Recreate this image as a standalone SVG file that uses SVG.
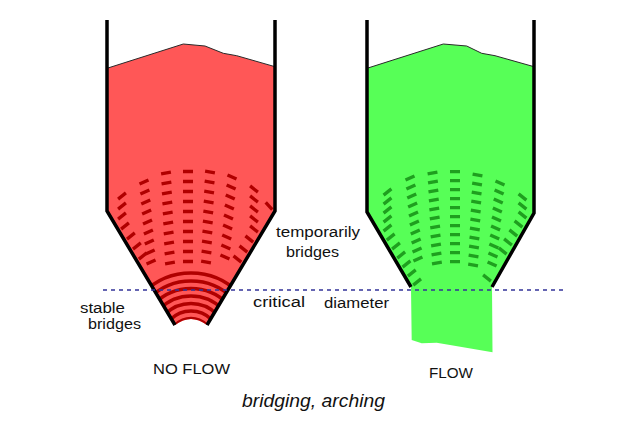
<svg xmlns="http://www.w3.org/2000/svg" width="633" height="422" viewBox="0 0 633 422">
<style>
.wall{fill:none;stroke:#000;stroke-width:3.5;stroke-linejoin:miter}
.surf{fill:none;stroke:#2a2a2a;stroke-width:1}
.rfill{fill:#ff5757}
.gfill{fill:#57ff57}
.rdash{fill:none;stroke:#b00000;stroke-width:3.3}
.gdash{fill:none;stroke:#1f9f1f;stroke-width:3.3}
.rarc{fill:none;stroke:#b00000;stroke-width:3.5}
.crit{fill:none;stroke:#333399;stroke-width:1.5;stroke-dasharray:4 4}
.lbl{font-family:"Liberation Sans",Arial,sans-serif;font-size:14px;fill:#111}
.cap{font-family:"Liberation Sans",Arial,sans-serif;font-size:19px;font-style:italic;fill:#111}
</style>
<defs>
<clipPath id="clipRed"><path d="M107 20 L275 20 L275 211 L207 325 Q191 313 175 325 L107 211 Z"/></clipPath>
<clipPath id="clipGreen"><path d="M367 20 L534 20 L534 213 L492 287 L411 287 L367 212 Z"/></clipPath>
</defs>

<g id="silo-noflow">
<path class="rfill" d="M107 68.3 L183.3 44 L205 46 L223.3 53.3 L236.7 55.7 L275 66.7 L275 211 L207 325 Q191 313 175 325 L107 211 Z"/>
<path class="surf" d="M107 68.3 L183.3 44 L205 46 L223.3 53.3 L236.7 55.7 L275 66.7"/>
<g clip-path="url(#clipRed)">
<path class="rdash" d="M183 171.5 h10 m-10 10 h10 m-10 10 h10 m-10 10 h10 m-10 10 h10 m-10 10 h10 m-10 10 h10 m-10 10 h10 m-10 10 h10 m-10 10 h10
M205.1 171.1 l9.8 1.8 m-10.24 8.2 l9.8 1.8 m-10.24 8.2 l9.8 1.8 m-10.24 8.2 l9.8 1.8 m-10.24 8.2 l9.8 1.8 m-10.24 8.2 l9.8 1.8 m-10.24 8.2 l9.8 1.8 m-10.24 8.2 l9.8 1.8 m-10.24 8.2 l9.8 1.8 m-10.24 8.2 l9.8 1.8
M161.1 173.9 l9.8 -1.8 m-9.36 11.8 l9.8 -1.8 m-9.36 11.8 l9.8 -1.8 m-9.36 11.8 l9.8 -1.8 m-9.36 11.8 l9.8 -1.8 m-9.36 11.8 l9.8 -1.8 m-9.36 11.8 l9.8 -1.8 m-9.36 11.8 l9.8 -1.8 m-9.36 11.8 l9.8 -1.8 m-9.36 11.8 l9.8 -1.8
M227.5 174.9 l9 4.2 m-9.88 5.8 l9 4.2 m-9.88 5.8 l9 4.2 m-9.88 5.8 l9 4.2 m-9.88 5.8 l9 4.2 m-9.88 5.8 l9 4.2 m-9.88 5.8 l9 4.2 m-9.88 5.8 l9 4.2 m-9.88 5.8 l9 4.2
M139.5 184.1 l9 -4.2 m-8.12 14.2 l9 -4.2 m-8.12 14.2 l9 -4.2 m-8.12 14.2 l9 -4.2 m-8.12 14.2 l9 -4.2 m-8.12 14.2 l9 -4.2 m-8.12 14.2 l9 -4.2 m-8.12 14.2 l9 -4.2 m-8.12 14.2 l9 -4.2
M118.1 199.1 l7.8 -6.2 M118.1 209.1 l7.8 -6.2 M118.1 219.1 l7.8 -6.2 M121.1 229.1 l7.8 -6.2 M127 239.1 l7.8 -6.2 M133 249.1 l7.8 -6.2 M138.9 259.1 l7.8 -6.2
M250.1 185.9 l7.8 6.2 M250.1 195.9 l7.8 6.2 M250.1 205.9 l7.8 6.2 M250.1 215.9 l7.8 6.2 M250.1 225.9 l7.8 6.2 M245.4 235.9 l7.8 6.2 M239.5 245.9 l7.8 6.2 M233.5 255.9 l7.8 6.2
M265.7 202.3 l6.6 7.4"/>
<path class="rarc" d="M124 340 A67 67 0 0 1 258 340 M132 340 A59 59 0 0 1 250 340 M139.5 340 A51.5 51.5 0 0 1 242.5 340 M147 340 A44 44 0 0 1 235 340 M154.5 340 A36.5 36.5 0 0 1 227.5 340 M162 340 A29 29 0 0 1 220 340 M169.5 340 A21.5 21.5 0 0 1 212.5 340"/>
</g>
<path class="wall" d="M107 20 L107 211 L175 325"/>
<path class="wall" d="M275 20 L275 211 L207 325"/>
</g>

<g id="silo-flow">
<path class="gfill" d="M367 68.3 L443.3 44 L466.7 46 L481.7 53.3 L495 55.7 L534 66.7 L534 213 L492 287 L492.5 352.3 L450 345 L436.7 342.7 L421.7 343.3 L411.7 340 L411 287 L367 212 Z"/>
<path class="surf" d="M367 68.3 L443.3 44 L466.7 46 L481.7 53.3 L495 55.7 L534 66.7"/>
<g clip-path="url(#clipGreen)">
<path class="gdash" d="M450 171.7 h10 m-10 9 h10 m-10 9 h10 m-10 9 h10 m-10 9 h10 m-10 9 h10 m-10 9 h10 m-10 9 h10 m-10 9 h10 m-10 9 h10 m-10 9 h10
M472.6 174.1 l9.8 1.8 m-10.24 7.2 l9.8 1.8 m-10.24 7.2 l9.8 1.8 m-10.24 7.2 l9.8 1.8 m-10.24 7.2 l9.8 1.8 m-10.24 7.2 l9.8 1.8 m-10.24 7.2 l9.8 1.8 m-10.24 7.2 l9.8 1.8 m-10.24 7.2 l9.8 1.8 m-10.24 7.2 l9.8 1.8 m-10.24 7.2 l9.8 1.8
M427.6 173.9 l9.8 -1.8 m-9.36 10.8 l9.8 -1.8 m-9.36 10.8 l9.8 -1.8 m-9.36 10.8 l9.8 -1.8 m-9.36 10.8 l9.8 -1.8 m-9.36 10.8 l9.8 -1.8 m-9.36 10.8 l9.8 -1.8 m-9.36 10.8 l9.8 -1.8 m-9.36 10.8 l9.8 -1.8 m-9.36 10.8 l9.8 -1.8 m-9.36 10.8 l9.8 -1.8
M495.5 180.9 l9 4.2 m-9.88 4.8 l9 4.2 m-9.88 4.8 l9 4.2 m-9.88 4.8 l9 4.2 m-9.88 4.8 l9 4.2 m-9.88 4.8 l9 4.2 m-9.88 4.8 l9 4.2 m-9.88 4.8 l9 4.2 m-9.88 4.8 l9 4.2 m-9.88 4.8 l9 4.2
M405.5 180.1 l9 -4.2 m-8.12 13.2 l9 -4.2 m-8.12 13.2 l9 -4.2 m-8.12 13.2 l9 -4.2 m-8.12 13.2 l9 -4.2 m-8.12 13.2 l9 -4.2 m-8.12 13.2 l9 -4.2 m-8.12 13.2 l9 -4.2 m-8.12 13.2 l9 -4.2 m-8.12 13.2 l9 -4.2
M383.6 195.1 l7.8 -6.2 M383.6 204.1 l7.8 -6.2 M383.6 213.1 l7.8 -6.2 M383.6 222.1 l7.8 -6.2 M383.6 231.1 l7.8 -6.2 M386.8 240.1 l7.8 -6.2 M392.1 249.1 l7.8 -6.2 M397.3 258.1 l7.8 -6.2 M402.6 267.1 l7.8 -6.2 M407.9 276.1 l7.8 -6.2 M413.2 285.1 l7.8 -6.2
M518.6 193.9 l7.8 6.2 M518.6 202.9 l7.8 6.2 M518.6 211.9 l7.8 6.2 M514.6 220.9 l7.8 6.2 M509.4 229.9 l7.8 6.2 M504.1 238.9 l7.8 6.2 M498.8 247.9 l7.8 6.2 M483.1 274.9 l7.8 6.2"/>
</g>
<path class="wall" d="M367 20 L367 212 L411 287"/>
<path class="wall" d="M534 20 L534 213 L492 287"/>
</g>

<g id="connectors">
<path id="critical-line" class="crit" d="M103 290 H567"/>
</g>

<g id="labels">
<text class="lbl" x="80" y="313" textLength="45" lengthAdjust="spacingAndGlyphs">stable</text>
<text class="lbl" x="88" y="328.5" textLength="53" lengthAdjust="spacingAndGlyphs">bridges</text>
<text class="lbl" x="276" y="237" textLength="84" lengthAdjust="spacingAndGlyphs">temporarily</text>
<text class="lbl" x="286" y="256.5" textLength="53" lengthAdjust="spacingAndGlyphs">bridges</text>
<text class="lbl" x="253" y="307" textLength="52" lengthAdjust="spacingAndGlyphs">critical</text>
<text class="lbl" x="324" y="307.5" textLength="65" lengthAdjust="spacingAndGlyphs">diameter</text>
<text class="lbl" x="153" y="374" textLength="77" lengthAdjust="spacingAndGlyphs">NO FLOW</text>
<text class="lbl" x="429" y="377.5" textLength="44" lengthAdjust="spacingAndGlyphs">FLOW</text>
<text class="cap" x="242" y="407" textLength="143" lengthAdjust="spacingAndGlyphs">bridging, arching</text>
</g>
</svg>
